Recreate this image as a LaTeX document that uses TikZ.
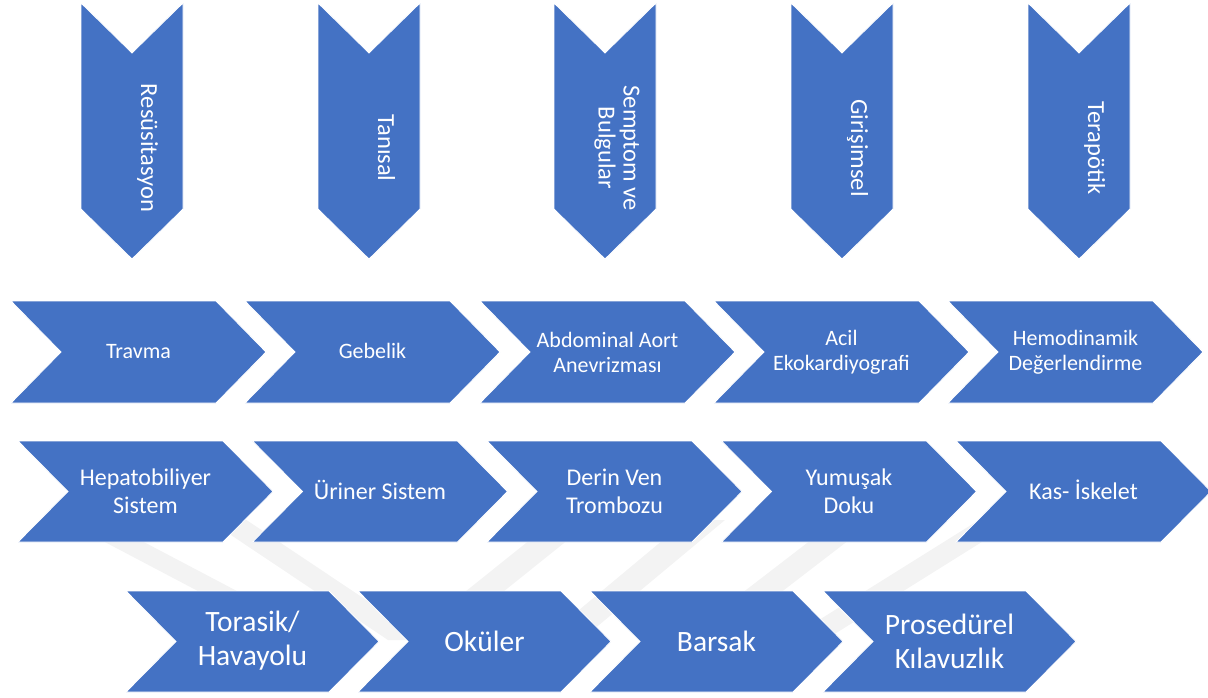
\documentclass[tikz,border=0pt]{standalone}
\usepackage{fontspec}
\setmainfont{Carlito}
\definecolor{chevblue}{HTML}{4472C4}
\definecolor{wm}{HTML}{F3F3F3}
\newcommand\hchev[4]{% left, top, width, height
  \path[chev] (#1,#2) -- ++(#3-50,0) -- ++(50,#4/2) -- ++(-50,#4/2) -- ++(-#3+50,0) -- ++(50,-#4/2) -- cycle;}
\newcommand\vchev[3]{% left, top, length
  \path[chev] (#1,#2) -- ++(51,50) -- ++(51,-50) -- ++(0,#3-50) -- ++(-51,50) -- ++(-51,-50) -- cycle;}
\begin{document}
\begin{tikzpicture}[x=1pt,y=-1pt,
  chev/.style={fill=chevblue, draw=white, line width=0.8pt},
  band/.style={fill=wm, draw=none},
  lbl/.style={text=white, align=center, inner sep=0pt},
  toplbl/.style={lbl, font=\fontsize{24.5}{25}\selectfont, rotate=-90},
  rowa/.style={lbl, font=\fontsize{22}{25}\selectfont},
  rowb/.style={lbl, font=\fontsize{24}{28}\selectfont},
  rowc/.style={lbl, font=\fontsize{29.5}{34}\selectfont}]
\useasboundingbox (0,0) rectangle (1208,697);
% faint watermark bands
\path[band] (101,540) -- (140,540) -- (292,620) -- (253,620) -- cycle;
\path[band] (201,515) -- (239,515) -- (426,640) -- (388,640) -- cycle;
\path[band] (561,515) -- (599,515) -- (443,640) -- (405,640) -- cycle;
\path[band] (687,520) -- (725,520) -- (581,640) -- (543,640) -- cycle;
\path[band] (837,520) -- (875,520) -- (719,640) -- (681,640) -- cycle;
\path[band] (979,520) -- (1017,520) -- (825,640) -- (787,640) -- cycle;
% top vertical chevrons
\vchev{81}{3}{256}
\vchev{318}{3}{256}
\vchev{554}{3}{256}
\vchev{791}{3}{256}
\vchev{1028}{3}{256}
% row 1
\hchev{11}{301}{255}{102}
\hchev{245}{301}{255}{102}
\hchev{480}{301}{255}{102}
\hchev{714}{301}{255}{102}
\hchev{948}{301}{255}{102}
% row 2
\hchev{18}{441}{255}{101}
\hchev{252.5}{441}{255}{101}
\hchev{487}{441}{255}{101}
\hchev{721.5}{441}{255}{101}
\hchev{956}{441}{255}{101}
% row 3
\hchev{126}{591}{253}{101}
\hchev{358}{591}{253}{101}
\hchev{590}{591}{253}{101}
\hchev{823}{591}{253}{101}
% top labels
\node[toplbl, anchor=base] (t1) at (141,148) {Resüsitasyon};
\node[toplbl, anchor=base] (t2) at (378,148) {Tanısal};
\node[toplbl] (t3) at (617,148) {Semptom ve\\Bulgular};
\node[toplbl, anchor=base] (t4) at (851,148) {Girişimsel};
\node[toplbl, anchor=base] (t5) at (1088,148) {Terapötik};
% row 1 labels
\node[rowa, anchor=base] (a1) at (138.5,358) {Travma};
\node[rowa, anchor=base] (a2) at (372.5,358) {Gebelik};
\node[rowa] (a3) at (607.5,352) {Abdominal Aort\\Anevrizması};
\node[rowa] (a4) at (841.5,352) {Acil\\Ekokardiyografi};
\node[rowa] (a5) at (1075.5,352) {Hemodinamik\\Değerlendirme};
% row 2 labels
\node[rowb] (b1) at (145.5,491.5) {Hepatobiliyer\\Sistem};
\node[rowb, anchor=base] (b2) at (380,499) {Üriner Sistem};
\node[rowb] (b3) at (614.5,491.5) {Derin Ven\\Trombozu};
\node[rowb] (b4) at (849,491.5) {Yumuşak\\Doku};
\node[rowb, anchor=base] (b5) at (1083.5,499) {Kas- İskelet};
% row 3 labels
\node[rowc] (c1) at (252.5,641) {Torasik/\\Havayolu};
\node[rowc, anchor=base] (c2) at (484.5,651) {Oküler};
\node[rowc, anchor=base] (c3) at (716.5,651) {Barsak};
\node[rowc] (c4) at (949.5,641) {Prosedürel\\Kılavuzlık};
\end{tikzpicture}
\end{document}
